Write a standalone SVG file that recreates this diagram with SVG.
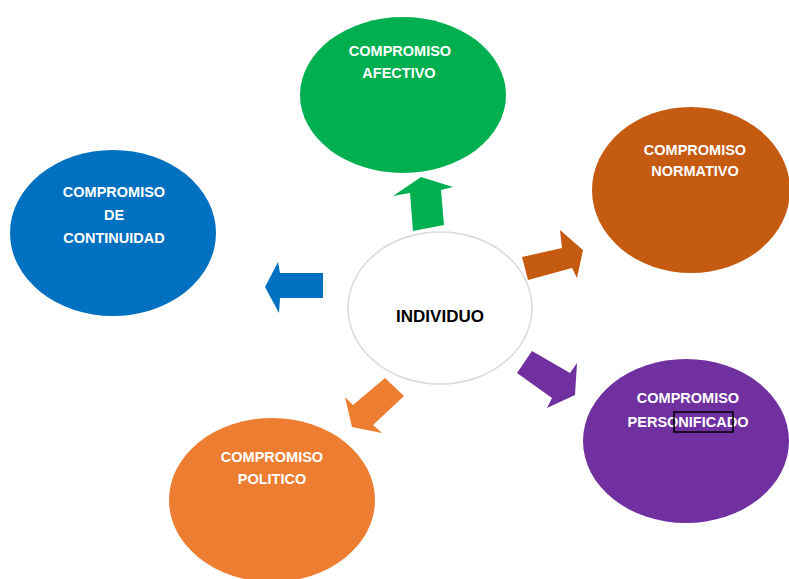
<svg xmlns="http://www.w3.org/2000/svg" width="789" height="579" viewBox="0 0 789 579">
<style>
.t{font-family:"Liberation Sans",Arial,sans-serif;font-weight:bold;font-size:14.5px;fill:#ffffff;text-anchor:middle}
.c{font-family:"Liberation Sans",Arial,sans-serif;font-weight:bold;font-size:17px;fill:#000000;text-anchor:middle}
</style>
<rect width="789" height="579" fill="#ffffff"/>
<g id="afectivo">
<ellipse cx="403" cy="95" rx="103" ry="78" fill="#00B050"/>
<text class="t" x="400" y="56">COMPROMISO</text>
<text class="t" x="399" y="78">AFECTIVO</text>
</g>
<g id="normativo">
<ellipse cx="691" cy="190" rx="99" ry="83" fill="#C55A11"/>
<text class="t" x="695" y="155">COMPROMISO</text>
<text class="t" x="695" y="176">NORMATIVO</text>
</g>
<g id="continuidad">
<ellipse cx="113" cy="233" rx="103" ry="83" fill="#0070C0"/>
<text class="t" x="114" y="197">COMPROMISO</text>
<text class="t" x="114" y="220">DE</text>
<text class="t" x="114" y="243">CONTINUIDAD</text>
</g>
<g id="personificado">
<ellipse cx="686" cy="441" rx="103" ry="82" fill="#7030A0"/>
<text class="t" x="688" y="403">COMPROMISO</text>
<text class="t" x="688" y="427">PERSONIFICADO</text>
<rect x="674" y="412" width="59" height="20" fill="none" stroke="#000000" stroke-width="1.5"/>
</g>
<g id="politico">
<ellipse cx="272" cy="500" rx="103" ry="82" fill="#ED7D31"/>
<text class="t" x="272" y="462">COMPROMISO</text>
<text class="t" x="272" y="484">POLITICO</text>
</g>
<g id="individuo">
<ellipse cx="440" cy="308" rx="92" ry="76" fill="#ffffff" stroke="#D9D9D9" stroke-width="1.5"/>
<text class="c" x="440" y="322">INDIVIDUO</text>
</g>
<g id="connectors">
<polygon points="421,177 453,187 441,190 444,225 413,231 410,193 393,196" fill="#00B050"/>
<polygon points="522,257 562,248 560,230 583,250 577,278 572,268 528,280" fill="#C55A11"/>
<polygon points="532,351 570,373 577,363 575,395 547,408 552,398 517,373" fill="#7030A0"/>
<polygon points="385,378 404,396 373,425 382,433 352,427 345,397 353,405" fill="#ED7D31"/>
<polygon points="265,287 278,262 280,273 323,273 323,298 280,298 279,313" fill="#0070C0"/>
</g>
</svg>
